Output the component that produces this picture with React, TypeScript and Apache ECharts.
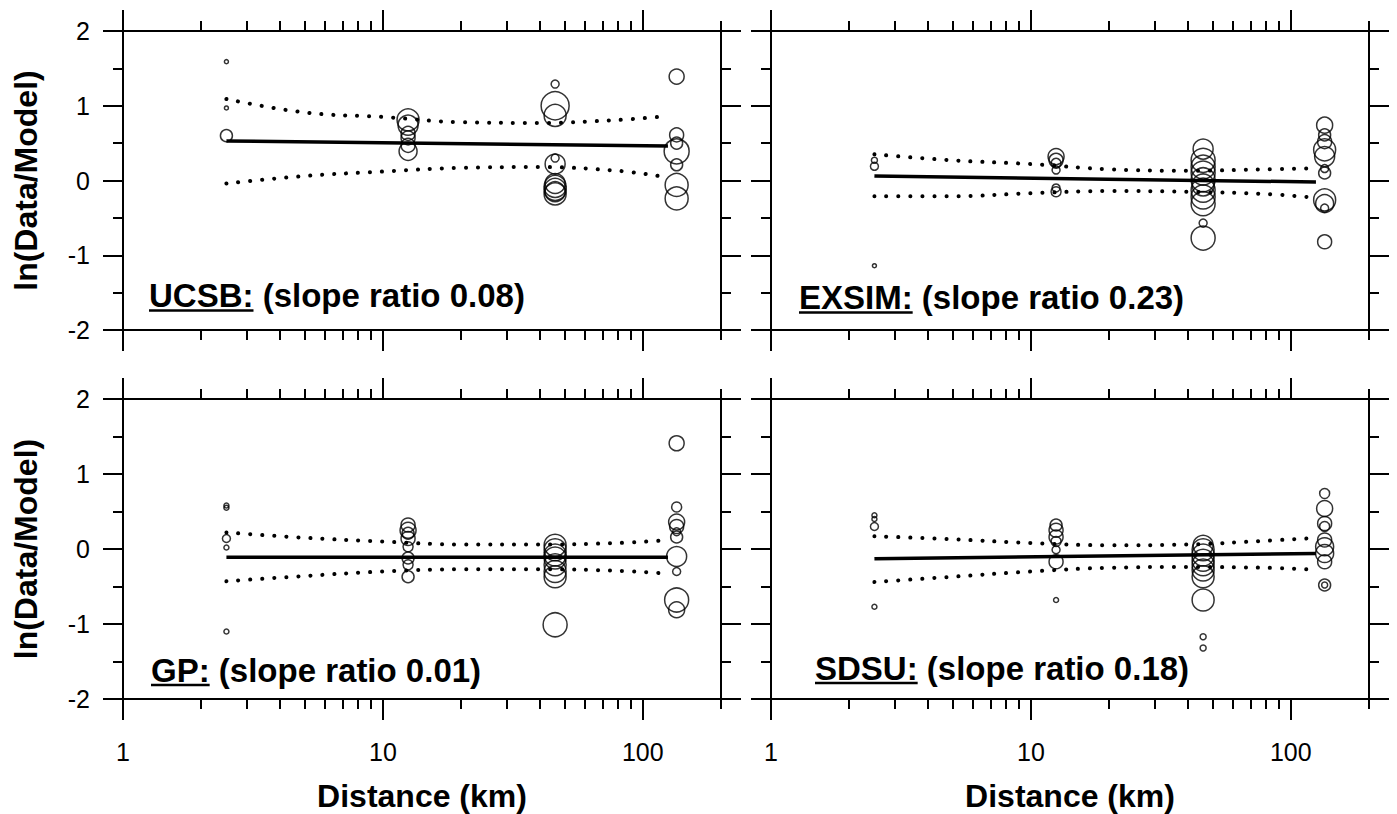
import React, { useEffect, useRef } from 'react';
import * as echarts from 'echarts';

// ---- axis ticks (distance in km, log scale) ----
const X_MAJOR = [1, 10, 100];
const X_MINOR = [2, 3, 4, 5, 6, 7, 8, 9, 20, 30, 40, 50, 60, 70, 80, 90, 200];
const X_MIN = 1;
const X_MAX = 200;
const Y_MIN = -2;
const Y_MAX = 2;

// ---- panel labels ----
const panelNames = ['UCSB:', 'EXSIM:', 'GP:', 'SDSU:'];
const panelNotes = ['(slope ratio 0.08)', '(slope ratio 0.23)', '(slope ratio 0.01)', '(slope ratio 0.18)'];

// ---- data: [distance km, ln(Data/Model), marker weight] ----
const ucsbPoints = [
  [2.5, 1.59, 4], [2.5, 0.97, 4], [2.5, 0.6, 12],
  [12.5, 0.81, 22], [12.5, 0.74, 20], [12.5, 0.63, 14], [12.5, 0.57, 14], [12.5, 0.47, 14], [12.5, 0.39, 18],
  [46, 1.29, 8], [46, 1.0, 28], [46, 0.87, 22], [46, 0.3, 8], [46, 0.22, 20],
  [46, -0.04, 20], [46, -0.08, 22], [46, -0.12, 22], [46, -0.15, 20], [46, -0.18, 22],
  [135, 1.39, 15], [135, 0.61, 14], [135, 0.5, 12], [135, 0.39, 25], [135, 0.21, 12], [135, -0.06, 23], [135, -0.24, 23],
];
const exsimPoints = [
  [2.5, 0.27, 6], [2.5, 0.19, 8], [2.5, -1.14, 4],
  [12.5, 0.32, 16], [12.5, 0.27, 14], [12.5, 0.23, 10], [12.5, 0.14, 8], [12.5, -0.1, 8], [12.5, -0.15, 10],
  [46, 0.42, 20], [46, 0.27, 24], [46, 0.18, 24], [46, 0.1, 24], [46, 0.01, 24], [46, -0.06, 22],
  [46, -0.13, 24], [46, -0.22, 24], [46, -0.31, 24], [46, -0.57, 8], [46, -0.77, 24],
  [135, 0.74, 16], [135, 0.61, 12], [135, 0.52, 14], [135, 0.41, 22], [135, 0.32, 20], [135, 0.16, 8],
  [135, 0.1, 12], [135, -0.26, 22], [135, -0.31, 18], [135, -0.37, 8], [135, -0.82, 14],
];
const gpPoints = [
  [2.5, 0.58, 5], [2.5, 0.55, 5], [2.5, 0.14, 8], [2.5, 0.02, 5], [2.5, -1.1, 5],
  [12.5, 0.32, 14], [12.5, 0.25, 16], [12.5, 0.21, 12], [12.5, 0.14, 14], [12.5, 0.03, 10],
  [12.5, -0.12, 12], [12.5, -0.21, 10], [12.5, -0.37, 12],
  [46, 0.05, 22], [46, -0.01, 22], [46, -0.08, 22], [46, -0.12, 22], [46, -0.21, 22], [46, -0.3, 22],
  [46, -0.37, 22], [46, -1.01, 24],
  [135, 1.41, 15], [135, 0.56, 10], [135, 0.36, 16], [135, 0.3, 14], [135, 0.23, 8], [135, 0.16, 12],
  [135, -0.1, 20], [135, -0.3, 8], [135, -0.68, 24], [135, -0.81, 16],
];
const sdsuPoints = [
  [2.5, 0.45, 5], [2.5, 0.4, 5], [2.5, 0.3, 8], [2.5, -0.77, 5],
  [12.5, 0.32, 12], [12.5, 0.25, 14], [12.5, 0.16, 14], [12.5, 0.1, 10], [12.5, -0.01, 8], [12.5, -0.17, 14], [12.5, -0.68, 5],
  [46, 0.05, 20], [46, -0.01, 22], [46, -0.08, 22], [46, -0.15, 22], [46, -0.21, 22], [46, -0.28, 22],
  [46, -0.37, 22], [46, -0.68, 22], [46, -1.17, 6], [46, -1.32, 6],
  [135, 0.74, 10], [135, 0.54, 16], [135, 0.34, 14], [135, 0.3, 10], [135, 0.12, 14], [135, 0.03, 18],
  [135, -0.06, 18], [135, -0.17, 14], [135, -0.48, 12], [135, -0.48, 6],
];

// regression fit lines [distance, value]
const ucsbFit = [[2.5, 0.53], [125, 0.46]];
const exsimFit = [[2.5, 0.06], [125, -0.02]];
const gpFit = [[2.5, -0.11], [125, -0.11]];
const sdsuFit = [[2.5, -0.13], [125, -0.06]];

// confidence bands (dotted) read at these distances
const bandDist = [2.5, 5, 10, 20, 40, 80, 115];
const ucsbUpper = [1.09, 0.91, 0.85, 0.78, 0.77, 0.81, 0.85];
const ucsbLower = [-0.04, 0.06, 0.12, 0.17, 0.18, 0.13, 0.06];
const exsimUpper = [0.35, 0.27, 0.22, 0.15, 0.13, 0.15, 0.16];
const exsimLower = [-0.21, -0.21, -0.17, -0.14, -0.15, -0.18, -0.22];
const gpUpper = [0.22, 0.15, 0.1, 0.06, 0.06, 0.08, 0.11];
const gpLower = [-0.43, -0.36, -0.3, -0.27, -0.27, -0.29, -0.32];
const sdsuUpper = [0.17, 0.13, 0.08, 0.05, 0.06, 0.11, 0.14];
const sdsuLower = [-0.44, -0.37, -0.3, -0.25, -0.24, -0.25, -0.27];

const FONT = "'Liberation Sans', Arial, Helvetica, sans-serif";

export default function App() {
  const ref = useRef<HTMLDivElement>(null);

  useEffect(() => {
    if (!ref.current) return;
    const chart = echarts.init(ref.current, undefined, { renderer: 'svg' });

    const lg = (d: number) => Math.log10(d);
    const grids = [
      { left: 123, top: 31, width: 598, height: 299 },
      { left: 771, top: 31, width: 598, height: 299 },
      { left: 123, top: 399, width: 598, height: 300 },
      { left: 771, top: 399, width: 598, height: 300 },
    ];
    const panels = [
      { pts: ucsbPoints, fit: ucsbFit, up: ucsbUpper, lo: ucsbLower },
      { pts: exsimPoints, fit: exsimFit, up: exsimUpper, lo: exsimLower },
      { pts: gpPoints, fit: gpFit, up: gpUpper, lo: gpLower },
      { pts: sdsuPoints, fit: sdsuFit, up: sdsuUpper, lo: sdsuLower },
    ];

    const black = '#000';
    const xAxes: any[] = [];
    const yAxes: any[] = [];
    const series: any[] = [];
    const xMajor = X_MAJOR.map(lg);
    const xMinor = X_MINOR.map(lg);

    grids.forEach((g, i) => {
      const showX = i >= 2;
      const mk = (position: string, major: boolean, lineShow: boolean, labels: boolean) => ({
        type: 'value',
        gridIndex: i,
        position,
        min: lg(X_MIN),
        max: lg(X_MAX),
        axisLine: { show: lineShow, onZero: false, lineStyle: { color: black, width: 2 } },
        axisTick: {
          show: true,
          customValues: major ? xMajor : xMinor,
          length: major ? 21 : 10,
          lineStyle: { color: black, width: 2 },
        },
        axisLabel: labels
          ? {
              show: true,
              customValues: xMajor,
              formatter: (v: number) => String(Math.round(Math.pow(10, v))),
              fontSize: 25,
              fontFamily: FONT,
              color: black,
              margin: 40,
            }
          : { show: false },
        splitLine: { show: false },
      });
      xAxes.push(mk('bottom', true, true, showX));
      xAxes.push(mk('bottom', false, false, false));
      xAxes.push(mk('top', true, true, false));
      xAxes.push(mk('top', false, false, false));

      const showY = i % 2 === 0;
      const yk = (position: string, labels: boolean) => ({
        type: 'value',
        gridIndex: i,
        position,
        min: Y_MIN,
        max: Y_MAX,
        interval: 1,
        axisLine: { show: true, onZero: false, lineStyle: { color: black, width: 2 } },
        axisTick: { show: true, length: 20, lineStyle: { color: black, width: 2 } },
        minorTick: { show: true, splitNumber: 2, length: 10, lineStyle: { color: black, width: 2 } },
        axisLabel: labels
          ? { show: true, fontSize: 25, fontFamily: FONT, color: black, margin: 33 }
          : { show: false },
        splitLine: { show: false },
        minorSplitLine: { show: false },
      });
      yAxes.push(yk('left', showY));
      yAxes.push(yk('right', false));

      const p = panels[i];
      const xi = i * 4;
      const yi = i * 2;
      series.push({
        type: 'scatter',
        xAxisIndex: xi,
        yAxisIndex: yi,
        data: p.pts.map(([d, v, s]) => [lg(d), v, s]),
        symbol: 'circle',
        symbolSize: (val: number[]) => val[2],
        itemStyle: { color: 'rgba(0,0,0,0)', borderColor: black, borderWidth: 1.5 },
        silent: true,
        z: 3,
      });
      series.push({
        type: 'line',
        xAxisIndex: xi,
        yAxisIndex: yi,
        data: p.fit.map(([d, v]) => [lg(d), v]),
        showSymbol: false,
        symbol: 'none',
        lineStyle: { color: black, width: 3.5 },
        silent: true,
        z: 4,
      });
      [p.up, p.lo].forEach((arr) => {
        series.push({
          type: 'line',
          xAxisIndex: xi,
          yAxisIndex: yi,
          data: bandDist.map((d, k) => [lg(d), arr[k]]),
          showSymbol: false,
          symbol: 'none',
          smooth: 0.4,
          lineStyle: { color: black, width: 4, type: [0.1, 11.9], cap: 'round' },
          silent: true,
          z: 4,
        });
      });
    });

    // text graphics
    const annFont = `bold 33px ${FONT}`;
    const ctx = document.createElement('canvas').getContext('2d')!;
    ctx.font = annFont;
    const annPos = [
      { x: 149, base: 307 },
      { x: 799, base: 309 },
      { x: 151, base: 681.5 },
      { x: 815, base: 679.5 },
    ];
    const graphic: any[] = [];
    annPos.forEach((a, i) => {
      const w = ctx.measureText(panelNames[i]).width;
      graphic.push({
        type: 'text',
        x: a.x,
        y: a.base - 11.5,
        style: {
          text: panelNames[i] + ' ' + panelNotes[i],
          font: annFont,
          fill: black,
          align: 'left',
          verticalAlign: 'middle',
          textAlign: 'left',
          textVerticalAlign: 'middle',
        },
        z: 10,
      });
      graphic.push({
        type: 'line',
        shape: { x1: a.x, y1: a.base + 3.5, x2: a.x + w, y2: a.base + 3.5 },
        style: { stroke: black, lineWidth: 2.5 },
        z: 10,
      });
    });
    const titleFont = `bold 32px ${FONT}`;
    [180.5, 549].forEach((cy) => {
      graphic.push({
        type: 'text',
        x: 26,
        y: cy,
        rotation: Math.PI / 2,
        style: {
          text: 'ln(Data/Model)',
          font: titleFont,
          fill: black,
          align: 'center',
          verticalAlign: 'middle',
          textAlign: 'center',
          textVerticalAlign: 'middle',
        },
      });
    });
    [422, 1070].forEach((cx) => {
      graphic.push({
        type: 'text',
        x: cx,
        y: 796,
        style: {
          text: 'Distance (km)',
          font: titleFont,
          fill: black,
          align: 'center',
          verticalAlign: 'middle',
          textAlign: 'center',
          textVerticalAlign: 'middle',
        },
      });
    });

    chart.setOption({
      animation: false,
      backgroundColor: '#fff',
      grid: grids.map((g) => ({ ...g, containLabel: false })),
      xAxis: xAxes,
      yAxis: yAxes,
      series,
      graphic,
    });

    return () => chart.dispose();
  }, []);

  return (
    <div
      ref={ref}
      style={{ position: 'fixed', left: 0, top: 0, width: 1397, height: 814, background: '#fff' }}
    />
  );
}
